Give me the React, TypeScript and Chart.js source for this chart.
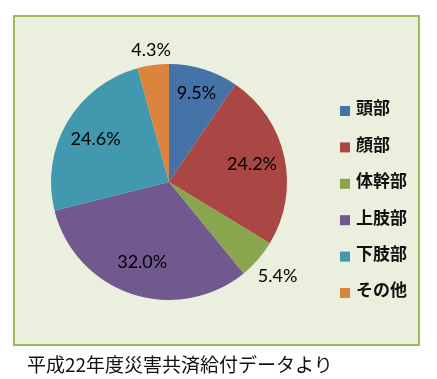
import React, { useEffect, useRef } from "react";
import { Chart, registerables } from "chart.js";

Chart.register(...registerables);

const categories = ["頭部", "顔部", "体幹部", "上肢部", "下肢部", "その他"];
const values = [9.5, 24.2, 5.4, 32.0, 24.6, 4.3];
const colors = ["#4572A7", "#AA4643", "#89A54E", "#71588F", "#4198AF", "#DB843D"];
const labelRadius = [0.79, 0.72, 1.22, 0.72, 0.72, 1.13];
const caption = "平成22年度災害共済給付データより";

const W = 437;
const H = 379;

const labelPlugin = {
  id: "pctLabels",
  afterDatasetsDraw(chart: any) {
    const ctx = chart.ctx;
    const meta = chart.getDatasetMeta(0);
    ctx.save();
    ctx.font = "18px Lato";
    ctx.fillStyle = "#000";
    ctx.textAlign = "center";
    ctx.textBaseline = "middle";
    meta.data.forEach((arc: any, i: number) => {
      const p = arc.getProps(["x", "y", "startAngle", "endAngle", "outerRadius"], true);
      const mid = (p.startAngle + p.endAngle) / 2;
      const r = p.outerRadius * labelRadius[i];
      ctx.fillText(values[i].toFixed(1) + "%", p.x + Math.cos(mid) * r, p.y + Math.sin(mid) * r);
    });
    ctx.restore();
  },
};

const legendPlugin = {
  id: "sideLegend",
  afterDraw(chart: any) {
    const ctx = chart.ctx;
    const labels = chart.data.labels as string[];
    const bg = chart.data.datasets[0].backgroundColor as string[];
    const x0 = 340;
    const y0 = 108;
    const step = 36.4;
    ctx.save();
    ctx.font = "bold 17px 'Noto Sans CJK JP'";
    ctx.textAlign = "left";
    ctx.textBaseline = "middle";
    labels.forEach((lab, i) => {
      const y = y0 + i * step;
      ctx.fillStyle = bg[i];
      ctx.fillRect(x0, y - 2, 10, 10);
      ctx.fillStyle = "#111";
      ctx.fillText(lab, x0 + 16, y);
    });
    ctx.restore();
  },
};

export default function App() {
  const ref = useRef<HTMLCanvasElement>(null);
  useEffect(() => {
    if (!ref.current) return;
    const chart = new Chart(ref.current, {
      type: "pie",
      data: {
        labels: categories,
        datasets: [
          {
            data: values,
            backgroundColor: colors,
            borderWidth: 0,
          },
        ],
      },
      options: {
        animation: false,
        responsive: false,
        maintainAspectRatio: false,
        layout: { padding: { left: 51, right: 150, top: 64, bottom: 79 } },
        plugins: {
          legend: { display: false },
          tooltip: { enabled: false },
        },
      },
      plugins: [labelPlugin, legendPlugin],
    });
    return () => chart.destroy();
  }, []);

  return (
    <div style={{ position: "fixed", left: 0, top: 0, width: W, height: H, background: "#fff" }}>
      <div
        style={{
          position: "absolute",
          left: 13,
          top: 15,
          width: 407,
          height: 331,
          boxSizing: "border-box",
          background: "#EBEFDD",
          border: "2px solid #9BBB59",
        }}
      />
      <canvas ref={ref} width={W} height={H} style={{ position: "absolute", left: 0, top: 0, width: W, height: H }} />
      <div
        style={{
          position: "absolute",
          left: 27,
          top: 350,
          fontFamily: "'Noto Sans CJK JP'",
          fontSize: 19,
          lineHeight: "28px",
          color: "#111",
          whiteSpace: "nowrap",
        }}
      >
        {caption}
      </div>
    </div>
  );
}
